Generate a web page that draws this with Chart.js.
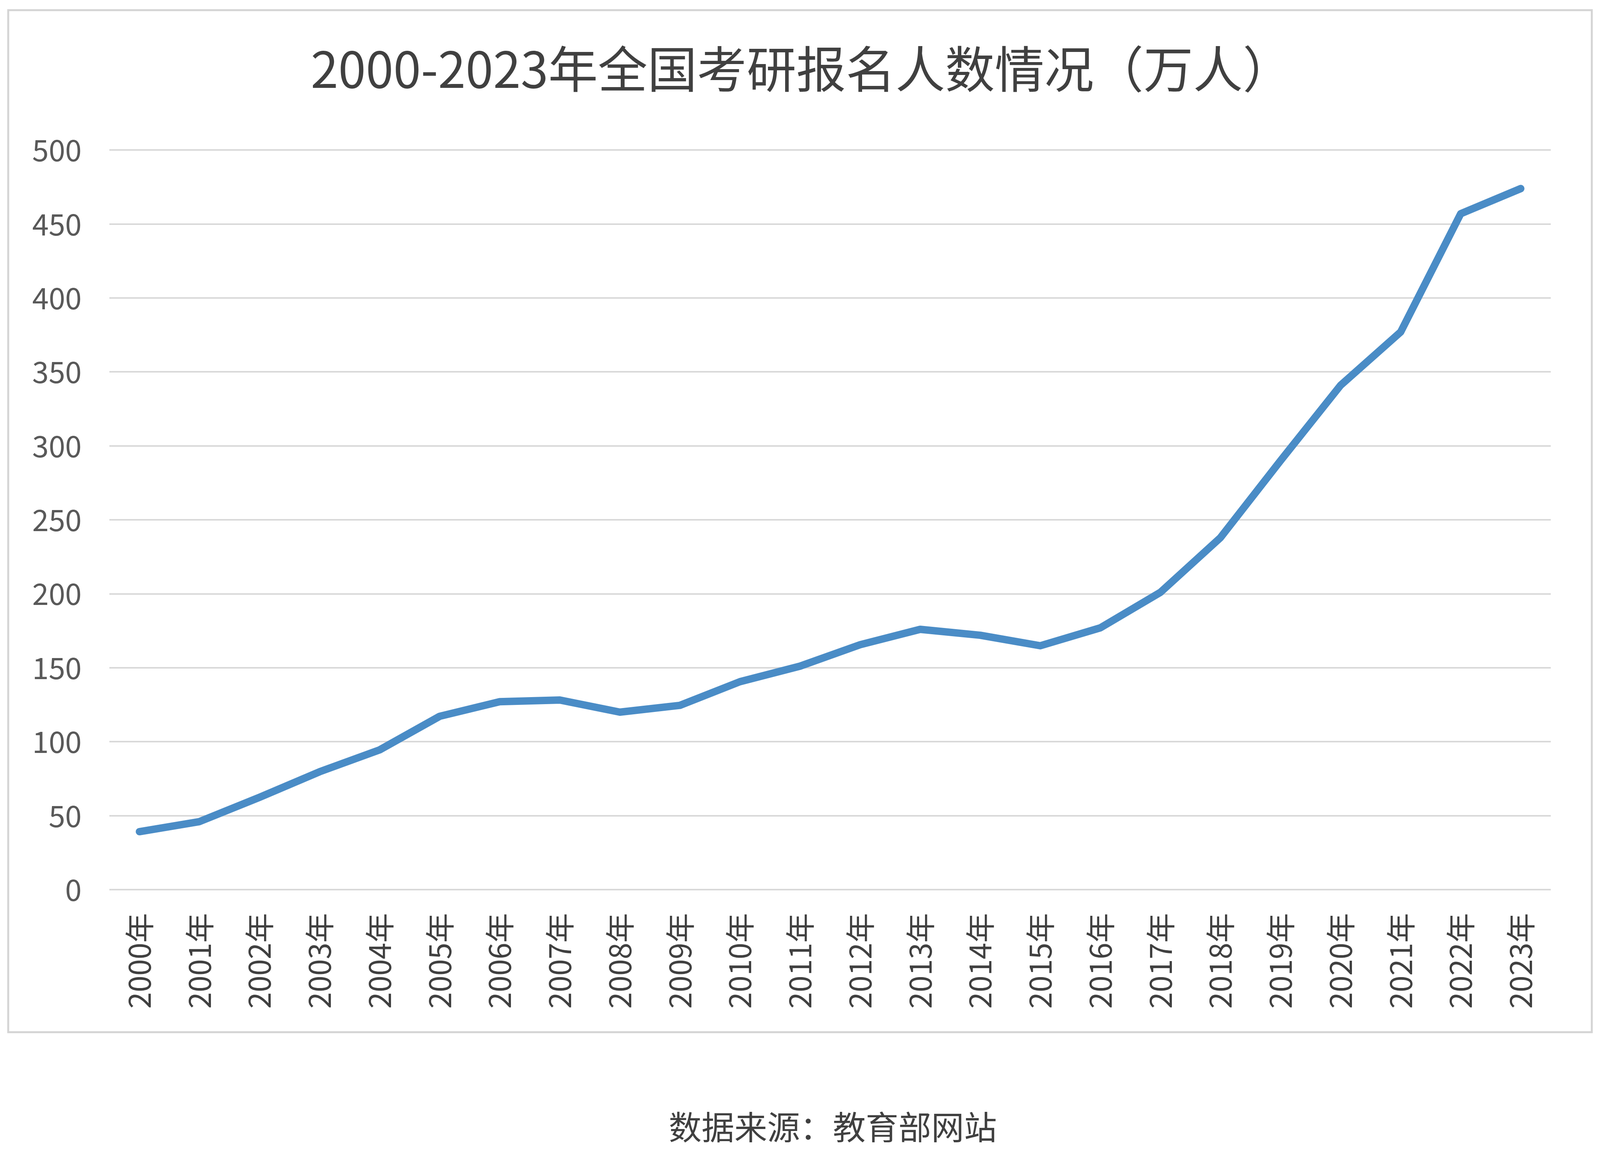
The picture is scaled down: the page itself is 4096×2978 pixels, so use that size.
<!DOCTYPE html>
<html>
<head>
<meta charset="utf-8">
<script src="https://cdn.jsdelivr.net/npm/chart.js@4/dist/chart.umd.min.js"></script>
<style>
  html, body { margin: 0; padding: 0; background: #ffffff; }
  #wrap { width: 4096px; height: 2978px; position: relative; }
</style>
</head>
<body>
<div id="wrap"><canvas id="graf" width="4096" height="2978"></canvas></div>
<script>
// 年份（x 轴）
const years = ["2000年","2001年","2002年","2003年","2004年","2005年","2006年","2007年",
               "2008年","2009年","2010年","2011年","2012年","2013年","2014年","2015年",
               "2016年","2017年","2018年","2019年","2020年","2021年","2022年","2023年"];
// 报名人数（万人）
const applicants = [39.2, 46, 62.4, 79.7, 94.5, 117.2, 127.1, 128.2,
                    120, 124.6, 140.6, 151.1, 165.6, 176, 172, 164.9,
                    177, 201, 238, 290, 341, 377, 457, 474];
const yTicks = [0, 50, 100, 150, 200, 250, 300, 350, 400, 450, 500];

const titleText = "2000-2023年全国考研报名人数情况（万人）";
const sourceText = "数据来源：教育部网站";
const cjk = "'Noto Sans CJK SC', 'Noto Sans', sans-serif";

// 外框、标题位置微调和底部数据来源
const frame = {
  id: "frame",
  afterLayout(chart) {
    if (chart.titleBlock) {            // 标题稍微向右移
      chart.titleBlock.left += 47;
      chart.titleBlock.right += 47;
    }
  },
  beforeDraw(chart) {
    const ctx = chart.ctx;
    ctx.save();
    ctx.fillStyle = "#ffffff";
    ctx.fillRect(0, 0, chart.width, chart.height);
    ctx.strokeStyle = "#d4d4d4";
    ctx.lineWidth = 5;
    ctx.strokeRect(21, 26, 4054, 2617);
    ctx.restore();
  },
  afterDraw(chart) {
    const ctx = chart.ctx;
    ctx.save();
    ctx.fillStyle = "#404040";
    ctx.font = "84px " + cjk;
    ctx.textAlign = "center";
    ctx.textBaseline = "middle";
    ctx.fillText(sourceText, 2132, 2886);
    ctx.restore();
  }
};

new Chart("graf", {
  type: "line",
  data: {
    labels: years,
    datasets: [{
      data: applicants,
      borderColor: "#4a8cc6",
      borderWidth: 19,
      pointRadius: 0,
      tension: 0,
      fill: false,
      borderCapStyle: "round",
      borderJoinStyle: "round"
    }]
  },
  options: {
    responsive: false,
    animation: false,
    layout: { padding: { left: 40, right: 126, top: 0, bottom: 358 } },
    plugins: {
      legend: { display: false },
      tooltip: { enabled: false },
      title: {
        display: true,
        text: titleText,
        color: "#404040",
        font: { family: cjk, size: 127, weight: "normal", lineHeight: 1.2 },
        padding: { top: 101, bottom: 131 }
      }
    },
    scales: {
      x: {
        offset: true,
        grid: { display: false, drawTicks: false },
        border: { display: false },
        ticks: {
          autoSkip: false,
          minRotation: 90,
          maxRotation: 90,
          padding: 60,
          color: "#404040",
          font: { family: cjk, size: 76 }
        },
        afterFit(scale) { scale.height = 342; }
      },
      y: {
        min: 0,
        max: 500,
        afterBuildTicks(scale) { scale.ticks = yTicks.map(v => ({ value: v })); },
        grid: { color: "#d9d9d9", lineWidth: 4, drawTicks: false },
        border: { display: false },
        ticks: {
          padding: 71,
          color: "#595959",
          font: { family: cjk, size: 76 }
        },
        afterFit(scale) { scale.width = 240; }
      }
    }
  },
  plugins: [frame]
});
</script>
</body>
</html>
